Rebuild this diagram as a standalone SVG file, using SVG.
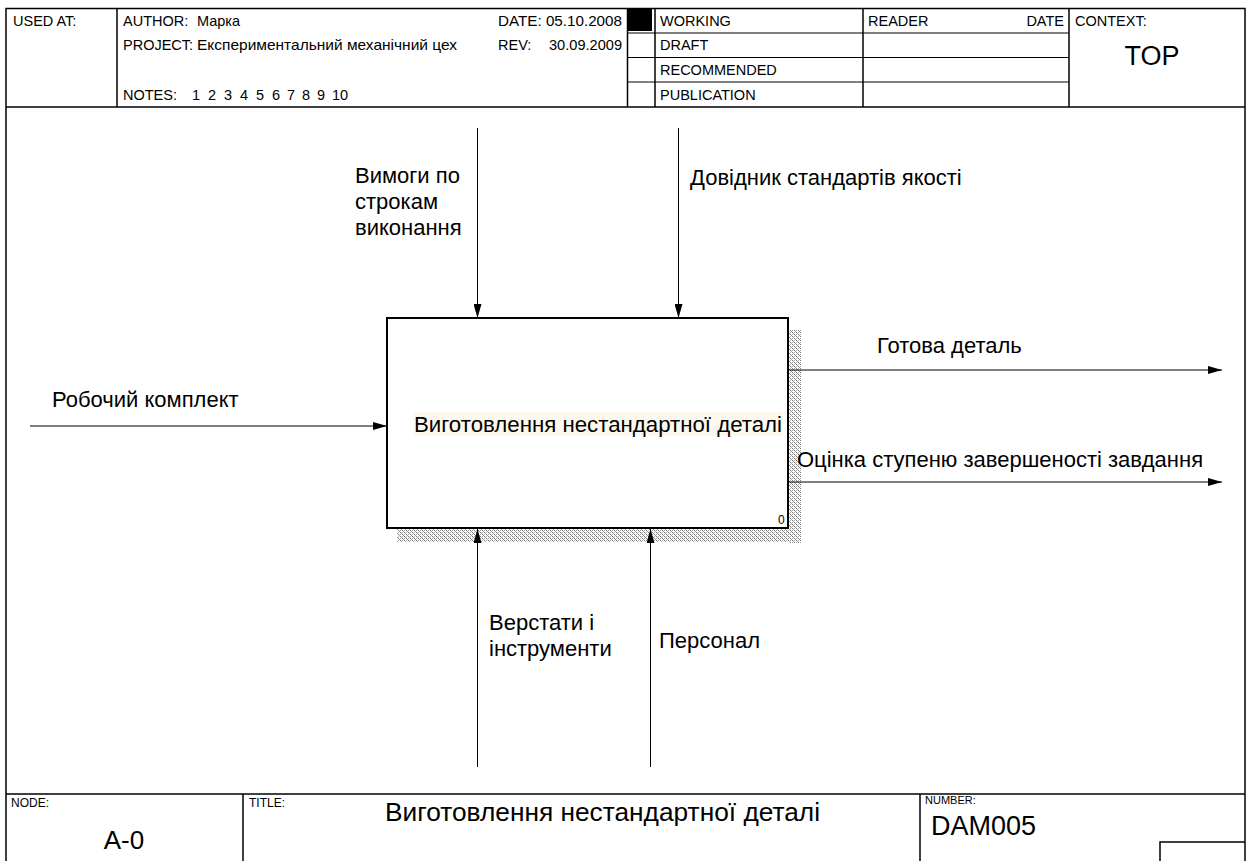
<svg xmlns="http://www.w3.org/2000/svg" width="1248" height="861" viewBox="0 0 1248 861">
<defs>
<style>
text{font-family:"Liberation Sans",Arial,sans-serif;fill:#000}
.s{font-size:14.5px}
.lbl{font-size:22px}
.frame{stroke:#000;stroke-width:1.5;fill:none}
.thin{stroke:#000;stroke-width:1;fill:none}
.conn{stroke:#000;stroke-width:1;fill:none}
</style>
<pattern id="hatch" width="4" height="4" patternUnits="userSpaceOnUse">
<rect width="4" height="4" fill="#fff"/>
<rect x="0" y="0" width="1" height="1" fill="#777"/>
<rect x="1" y="1" width="1" height="1" fill="#999"/>
<rect x="2" y="0" width="1" height="1" fill="#aaa"/>
<rect x="2" y="2" width="1" height="1" fill="#777"/>
<rect x="3" y="3" width="1" height="1" fill="#999"/>
<rect x="0" y="2" width="1" height="1" fill="#aaa"/>
</pattern>
<marker id="arr" viewBox="0 0 14 8" refX="14" refY="4" markerWidth="14" markerHeight="8" markerUnits="userSpaceOnUse" orient="auto">
<path d="M0,0 L14,4 L0,8 Z" fill="#000"/>
</marker>
</defs>

<g id="frame">
<rect x="6" y="8.5" width="1239" height="870" class="frame"/>
<line x1="6" y1="107" x2="1245" y2="107" class="frame"/>
<line x1="117" y1="8" x2="117" y2="107" class="frame"/>
<line x1="627.5" y1="8" x2="627.5" y2="107" class="frame"/>
<rect x="627" y="9" width="25" height="22" fill="#000"/>
<line x1="655" y1="8" x2="655" y2="107" class="frame"/>
<line x1="863" y1="8" x2="863" y2="107" class="frame"/>
<line x1="1069" y1="8" x2="1069" y2="107" class="frame"/>
<line x1="627" y1="33" x2="1069" y2="33" class="thin"/>
<line x1="627" y1="57.5" x2="1069" y2="57.5" class="thin"/>
<line x1="627" y1="82" x2="1069" y2="82" class="thin"/>
<text x="13" y="26" class="s">USED AT:</text>
<text x="123" y="26" class="s">AUTHOR:</text>
<text x="197" y="26" class="s">Марка</text>
<text x="123" y="50" class="s">PROJECT:</text>
<text x="197" y="50" class="s" textLength="260" lengthAdjust="spacingAndGlyphs">Експериментальний механічний цех</text>
<text y="100" class="s"><tspan x="123">NOTES:</tspan><tspan x="192">1</tspan><tspan x="208">2</tspan><tspan x="224">3</tspan><tspan x="240">4</tspan><tspan x="256">5</tspan><tspan x="272">6</tspan><tspan x="287">7</tspan><tspan x="302">8</tspan><tspan x="317">9</tspan><tspan x="332">10</tspan></text>
<text x="498" y="26" class="s" textLength="124" lengthAdjust="spacingAndGlyphs">DATE: 05.10.2008</text>
<text x="498" y="50" class="s">REV:</text>
<text x="549" y="50" class="s" textLength="73" lengthAdjust="spacingAndGlyphs">30.09.2009</text>
<text x="660" y="26" class="s">WORKING</text>
<text x="660" y="50" class="s">DRAFT</text>
<text x="660" y="75" class="s">RECOMMENDED</text>
<text x="660" y="100" class="s">PUBLICATION</text>
<text x="868" y="26" class="s">READER</text>
<text x="1064" y="26" class="s" text-anchor="end">DATE</text>
<text x="1075" y="26" class="s">CONTEXT:</text>
<text x="1152" y="65" font-size="27" text-anchor="middle">TOP</text>

<line x1="6" y1="794" x2="1245" y2="794" class="frame"/>
<line x1="243" y1="794" x2="243" y2="861" class="frame"/>
<line x1="920" y1="794" x2="920" y2="861" class="frame"/>
<polyline points="1160,861 1160,842 1245,842" class="frame"/>
<text x="11" y="807" font-size="12">NODE:</text>
<text x="124" y="849" font-size="26" text-anchor="middle">A-0</text>
<text x="249" y="807" font-size="12">TITLE:</text>
<text x="385" y="821" font-size="26" textLength="435" lengthAdjust="spacingAndGlyphs">Виготовлення нестандартної деталі</text>
<text x="925" y="804" font-size="11">NUMBER:</text>
<text x="931" y="835" font-size="27">DAM005</text>
</g>

<g id="node-A0">
<rect x="789" y="330" width="12" height="213" fill="url(#hatch)"/>
<rect x="397" y="529" width="404" height="13" fill="url(#hatch)"/>
<rect x="387" y="318" width="401" height="210" fill="#fff" stroke="#000" stroke-width="2"/>
<rect x="413" y="412" width="370" height="24" fill="#fdf8ee"/>
<text x="414" y="432" class="lbl" textLength="368" lengthAdjust="spacingAndGlyphs">Виготовлення нестандартної деталі</text>
<text x="778" y="524" font-size="12">0</text>
</g>

<g id="connectors">
<line x1="30" y1="426" x2="387" y2="426" class="conn" marker-end="url(#arr)"/>
<line x1="477.5" y1="128" x2="477.5" y2="318" class="conn" marker-end="url(#arr)"/>
<line x1="678.5" y1="128" x2="678.5" y2="318" class="conn" marker-end="url(#arr)"/>
<line x1="789" y1="370" x2="1222" y2="370" class="conn" marker-end="url(#arr)"/>
<line x1="789" y1="482" x2="1222" y2="482" class="conn" marker-end="url(#arr)"/>
<line x1="477.5" y1="767" x2="477.5" y2="529" class="conn" marker-end="url(#arr)"/>
<line x1="650.5" y1="767" x2="650.5" y2="529" class="conn" marker-end="url(#arr)"/>
<text x="52" y="407" class="lbl">Робочий комплект</text>
<text x="355" y="183" class="lbl">Вимоги по</text>
<text x="355" y="209" class="lbl">строкам</text>
<text x="355" y="235" class="lbl">виконання</text>
<text x="690" y="185" class="lbl">Довідник стандартів якості</text>
<text x="877" y="353" class="lbl">Готова деталь</text>
<text x="797" y="467" class="lbl">Оцінка ступеню завершеності завдання</text>
<text x="489" y="630" class="lbl">Верстати і</text>
<text x="489" y="656" class="lbl">інструменти</text>
<text x="659" y="648" class="lbl">Персонал</text>
</g>
</svg>
